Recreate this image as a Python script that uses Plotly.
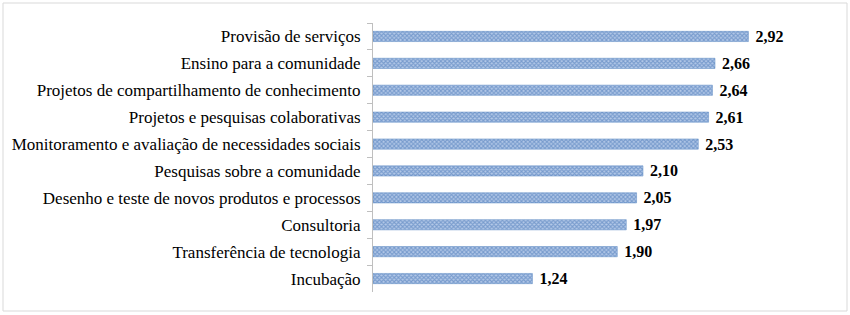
import plotly.graph_objects as go

categories = [
    "Provisão de serviços",
    "Ensino para a comunidade",
    "Projetos de compartilhamento de conhecimento",
    "Projetos e pesquisas colaborativas",
    "Monitoramento e avaliação de necessidades sociais",
    "Pesquisas sobre a comunidade",
    "Desenho e teste de novos produtos e processos",
    "Consultoria",
    "Transferência de tecnologia",
    "Incubação",
]
values = [2.92, 2.66, 2.64, 2.61, 2.53, 2.10, 2.05, 1.97, 1.90, 1.24]
labels = [" " + f"{v:.2f}".replace(".", ",") for v in values]

W, H = 850, 315
ml, mr, mt, mb = 373, 27, 23, 23

fig = go.Figure(go.Bar(
    x=values, y=categories, orientation="h",
    text=labels, textposition="outside", cliponaxis=False, constraintext="none",
    textfont=dict(family="Liberation Serif", size=16, color="black", weight="bold"),
    marker=dict(
        color="#4f81bd",
        line=dict(color="#5a88c2", width=0.5),
        pattern=dict(shape="x", size=3, solidity=0.6, fgcolor="#3d70b2", bgcolor="#b4c9e8"),
    ),
    width=0.38,
))

fig.update_layout(
    width=W, height=H,
    margin=dict(l=ml, r=mr, t=mt, b=mb),
    paper_bgcolor="white", plot_bgcolor="white",
    showlegend=False,
    font=dict(family="Liberation Serif", size=17, color="black"),
    xaxis=dict(range=[0, 3.5], visible=False, fixedrange=True, automargin=False),
    yaxis=dict(
        autorange="reversed", showline=True, linecolor="#bfbfbf", linewidth=1,
        ticks="outside", tickson="boundaries", ticklen=5, tickcolor="#bfbfbf",
        showgrid=False, ticklabelstandoff=8, automargin=False,
    ),
)

pw = W - ml - mr
ph = H - mt - mb
fig.add_shape(
    type="rect", xref="paper", yref="paper",
    x0=(3 - ml) / pw, x1=(847 - ml) / pw,
    y0=(H - 311 - mb) / ph, y1=(H - 3 - mb) / ph,
    line=dict(color="#d9d9d9", width=1), fillcolor="rgba(0,0,0,0)", layer="below",
)

fig.write_html("out.html", config={"displayModeBar": False},
               post_script="document.body.style.margin='0px';")
